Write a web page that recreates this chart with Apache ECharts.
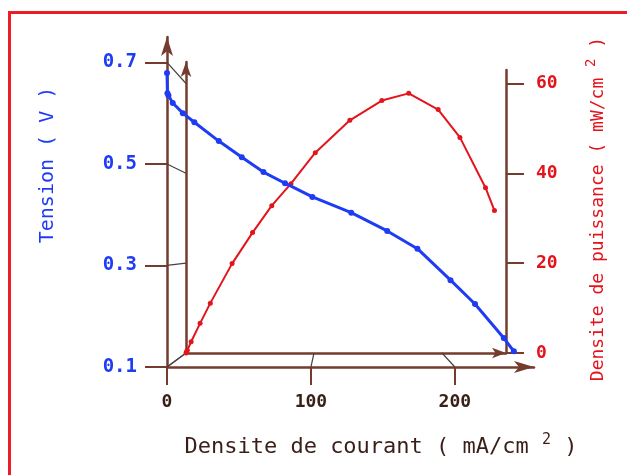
<!DOCTYPE html>
<html>
<head>
<meta charset="utf-8">
<script src="https://cdn.jsdelivr.net/npm/echarts@6/dist/echarts.min.js"></script>
<style>
  html, body { margin: 0; padding: 0; background: #fff; }
  #chart { width: 627px; height: 475px; }
</style>
</head>
<body>
<div id="chart"></div>
<script>
// current density (mA/cm2), shared by both curves
var current = [0, 0.3, 1, 4, 11, 19, 36, 52, 67, 82, 101, 128, 153, 174, 197, 214, 234, 241];
// cell voltage (V)
var tension = [0.679, 0.639, 0.635, 0.620, 0.600, 0.582, 0.545, 0.513, 0.484, 0.462, 0.435, 0.404, 0.368, 0.333, 0.271, 0.224, 0.157, 0.131];
// power density (mW/cm2)
var puissance = [0, 0.2, 0.6, 2.5, 6.6, 11.1, 19.9, 26.8, 32.8, 37.7, 44.6, 51.8, 56.2, 57.8, 54.2, 48.0, 36.8, 31.7];

var currentTicks = [0, 100, 200];
var tensionTicks = [0.1, 0.3, 0.5, 0.7];
var puissanceTicks = [0, 20, 40, 60];

var axisColor = '#743c2e';
var blue = '#1f3cf5';
var red = '#e3141c';
var mono = 'DejaVu Sans Mono';

function pairs(xs, ys) {
    return xs.map(function (x, i) { return [x, ys[i]]; });
}

var chart = echarts.init(document.getElementById('chart'));

var option = {
    animation: false,
    grid: [
        { left: 167, top: 37, width: 367, height: 330 },
        { left: 186, top: 70, width: 320, height: 283 },
        { left: 186, top: 62, width: 320, height: 291 }
    ],
    xAxis: [
        {
            gridIndex: 0, type: 'value', min: 0, max: 255,
            axisLine: { onZero: false, lineStyle: { color: axisColor, width: 2.5 },
                symbol: ['none', 'arrow'], symbolSize: [9, 20] },
            axisTick: { customValues: currentTicks, length: 18, lineStyle: { color: axisColor, width: 2 } },
            axisLabel: { customValues: currentTicks, margin: 26, color: '#3a1e18',
                fontFamily: mono, fontWeight: 'bold', fontSize: 18 },
            splitLine: { show: false }
        },
        {
            gridIndex: 1, type: 'value', min: 0, max: 250,
            axisLine: { onZero: false, lineStyle: { color: axisColor, width: 2.5 },
                symbol: ['none', 'arrow'], symbolSize: [8, 14] },
            axisTick: { show: false },
            axisLabel: { show: false },
            splitLine: { show: false }
        },
        { gridIndex: 2, type: 'value', min: 0, max: 1, show: false }
    ],
    yAxis: [
        {
            gridIndex: 0, type: 'value', min: 0.1, max: 0.75,
            axisLine: { show: true, onZero: false, lineStyle: { color: axisColor, width: 2.5 },
                symbol: ['none', 'arrow'], symbolSize: [9, 19] },
            axisTick: { show: true, customValues: tensionTicks, length: 22, lineStyle: { color: axisColor, width: 2 } },
            axisLabel: { customValues: tensionTicks, margin: 30, color: blue,
                fontFamily: mono, fontWeight: 'bold', fontSize: 19 },
            splitLine: { show: false }
        },
        {
            gridIndex: 1, type: 'value', position: 'right', min: 0, max: 63,
            axisLine: { show: true, onZero: false, lineStyle: { color: axisColor, width: 2.5 } },
            axisTick: { show: true, customValues: puissanceTicks, length: 18, lineStyle: { color: axisColor, width: 2 } },
            axisLabel: { customValues: puissanceTicks, margin: 30, color: red,
                fontFamily: mono, fontWeight: 'bold', fontSize: 18 },
            splitLine: { show: false }
        },
        {
            gridIndex: 2, type: 'value', min: 0, max: 1,
            axisLine: { show: true, onZero: false, lineStyle: { color: axisColor, width: 2.5 },
                symbol: ['none', 'arrow'], symbolSize: [8, 15] },
            axisTick: { show: false },
            axisLabel: { show: false },
            splitLine: { show: false }
        }
    ],
    series: [
        {
            type: 'line', xAxisIndex: 1, yAxisIndex: 1,
            data: pairs(current, puissance),
            symbol: 'circle', symbolSize: 5,
            lineStyle: { color: red, width: 2 },
            itemStyle: { color: red },
            z: 3
        },
        {
            type: 'line', xAxisIndex: 0, yAxisIndex: 0,
            data: pairs(current, tension),
            symbol: 'circle', symbolSize: 6,
            lineStyle: { color: blue, width: 3 },
            itemStyle: { color: blue },
            z: 4
        }
    ]
};

chart.setOption(option);

// frame, titles, and the thin lines joining outer ticks to inner axes
var graphics = [
    { id: 'frame', type: 'rect', z: 0, silent: true,
      shape: { x: 9.5, y: 12.5, width: 700, height: 600 },
      style: { fill: 'none', stroke: '#ee1c25', lineWidth: 3 } },
    { id: 'tTitle', type: 'text', x: 48, y: 165, rotation: Math.PI / 2,
      style: { text: 'Tension ( V )', fill: blue, font: '20px "DejaVu Sans Mono"',
        align: 'center', verticalAlign: 'middle' } },
    { id: 'pTitle', type: 'text', x: 598, y: 209, rotation: Math.PI / 2,
      style: { text: '{a|Densite de puissance ( mW/cm }{s|2}{a| )}',
        align: 'center', verticalAlign: 'middle',
        rich: {
            a: { fill: red, fontFamily: mono, fontSize: 18 },
            s: { fill: red, fontFamily: mono, fontSize: 14, padding: [0, 0, 14, 0] }
        } } },
    { id: 'cTitle', type: 'text', x: 381, y: 447,
      style: { text: '{a|Densite de courant ( mA/cm }{s|2}{a| )}',
        align: 'center', verticalAlign: 'middle',
        rich: {
            a: { fill: '#3a1e18', fontFamily: mono, fontSize: 22 },
            s: { fill: '#3a1e18', fontFamily: mono, fontSize: 15, padding: [0, 0, 14, 0] }
        } } }
];

tensionTicks.forEach(function (v, i) {
    var p0 = chart.convertToPixel({ gridIndex: 0 }, [0, v]);
    var p1 = chart.convertToPixel({ gridIndex: 1 }, [0, puissanceTicks[i]]);
    graphics.push({ id: 'cy' + i, type: 'line', z: 1, silent: true,
        shape: { x1: p0[0], y1: p0[1], x2: p1[0], y2: p1[1] },
        style: { stroke: '#4a4040', lineWidth: 1.2 } });
});

currentTicks.forEach(function (v, i) {
    var p0 = chart.convertToPixel({ gridIndex: 0 }, [v, 0.1]);
    var p1 = chart.convertToPixel({ gridIndex: 1 }, [v, 0]);
    graphics.push({ id: 'cx' + i, type: 'line', z: 1, silent: true,
        shape: { x1: p0[0], y1: p0[1], x2: p1[0], y2: p1[1] },
        style: { stroke: '#4a4040', lineWidth: 1.2 } });
});

chart.setOption({ graphic: graphics });
</script>
</body>
</html>
